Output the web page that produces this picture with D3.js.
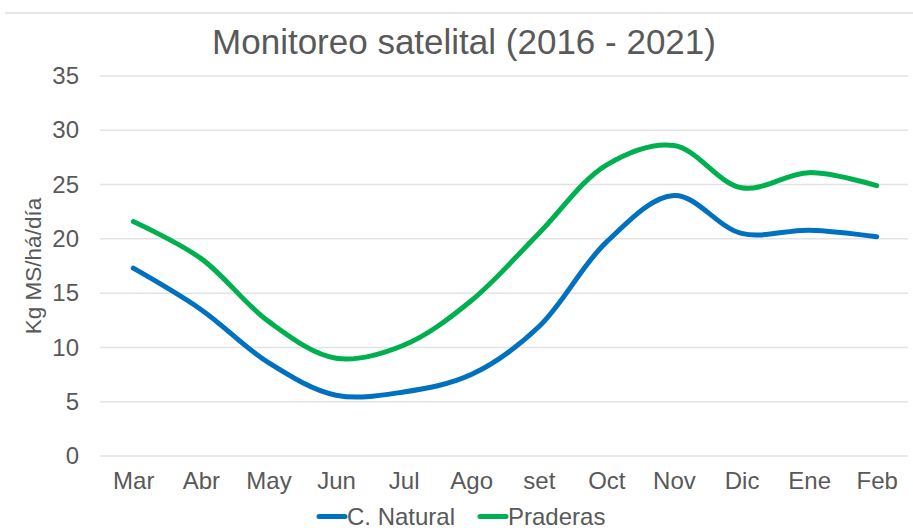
<!DOCTYPE html>
<html>
<head>
<meta charset="utf-8">
<script src="https://cdn.jsdelivr.net/npm/d3@7/dist/d3.min.js"></script>
<style>
  html, body { margin: 0; padding: 0; background: #fff; }
  svg { display: block; font-family: "Liberation Sans", Arial, sans-serif; }
</style>
</head>
<body>
<svg id="chart" width="913" height="531"></svg>
<script>
const months = ["Mar","Abr","May","Jun","Jul","Ago","set","Oct","Nov","Dic","Ene","Feb"];
const cNatural = [17.3, 13.5, 8.6, 5.6, 5.9, 7.5, 11.9, 19.7, 24.0, 20.5, 20.8, 20.2];
const praderas = [21.6, 18.2, 12.4, 9.0, 10.2, 14.3, 20.5, 26.8, 28.6, 24.7, 26.1, 24.9];
const yTicks = [0, 5, 10, 15, 20, 25, 30, 35];
const seriesNames = ["C. Natural", "Praderas"];
const seriesColors = ["#0070C0", "#00B050"];
const title = "Monitoreo satelital (2016 - 2021)";
const yTitle = "Kg MS/há/día";

const svg = d3.select("#chart");
const W = 913, H = 531;
const font = "Liberation Sans, Arial, sans-serif";

const x = d3.scalePoint().domain(months).range([99.5, 910.5]).padding(0.5);
const y = d3.scaleLinear().domain([0, 35]).range([456, 76]);

// top border line
svg.append("line").attr("x1", 5).attr("x2", W).attr("y1", 13).attr("y2", 13)
  .attr("stroke", "#e6e6e6").attr("stroke-width", 2);

// title
svg.append("text").attr("x", 464).attr("y", 54).attr("text-anchor", "middle")
  .attr("font-size", 35).attr("fill", "#595959").text(title);

// gridlines
svg.append("g").selectAll("line").data(yTicks).join("line")
  .attr("x1", 100).attr("x2", 908)
  .attr("y1", d => y(d)).attr("y2", d => y(d))
  .attr("stroke", "#e3e3e3").attr("stroke-width", 1.5);

// y axis
const yAxis = d3.axisLeft(y).tickValues(yTicks).tickSize(0).tickPadding(0);
const gy = svg.append("g").attr("transform", "translate(79,0)").call(yAxis);
gy.select(".domain").remove();
gy.selectAll("text").attr("font-size", 24).attr("fill", "#595959")
  .attr("font-family", font);

// x axis
const xAxis = d3.axisBottom(x).tickSize(0).tickPadding(0);
const gx = svg.append("g").attr("transform", "translate(0,472)").call(xAxis);
gx.select(".domain").remove();
gx.selectAll("text").attr("font-size", 24).attr("fill", "#595959")
  .attr("font-family", font);

// y title
svg.append("text").attr("transform", "translate(41,266) rotate(-90)")
  .attr("text-anchor", "middle").attr("font-size", 22.5).attr("fill", "#595959")
  .text(yTitle);

// lines
const line = d3.line().x((d, i) => x(months[i])).y(d => y(d))
  .curve(d3.curveCatmullRom.alpha(0.5));
[cNatural, praderas].forEach((s, k) => {
  svg.append("path").datum(s).attr("d", line).attr("fill", "none")
    .attr("stroke", seriesColors[k]).attr("stroke-width", 5)
    .attr("stroke-linecap", "round").attr("stroke-linejoin", "round");
});

// legend
const legendItems = [{x: 319, tx: 347}, {x: 480, tx: 508}];
seriesNames.forEach((n, k) => {
  const g = svg.append("g");
  g.append("line").attr("x1", legendItems[k].x).attr("x2", legendItems[k].x + 26)
    .attr("y1", 516.5).attr("y2", 516.5).attr("stroke", seriesColors[k])
    .attr("stroke-width", 5).attr("stroke-linecap", "round");
  g.append("text").attr("x", legendItems[k].tx).attr("y", 525)
    .attr("font-size", 24).attr("fill", "#595959").text(n);
});
</script>
</body>
</html>
